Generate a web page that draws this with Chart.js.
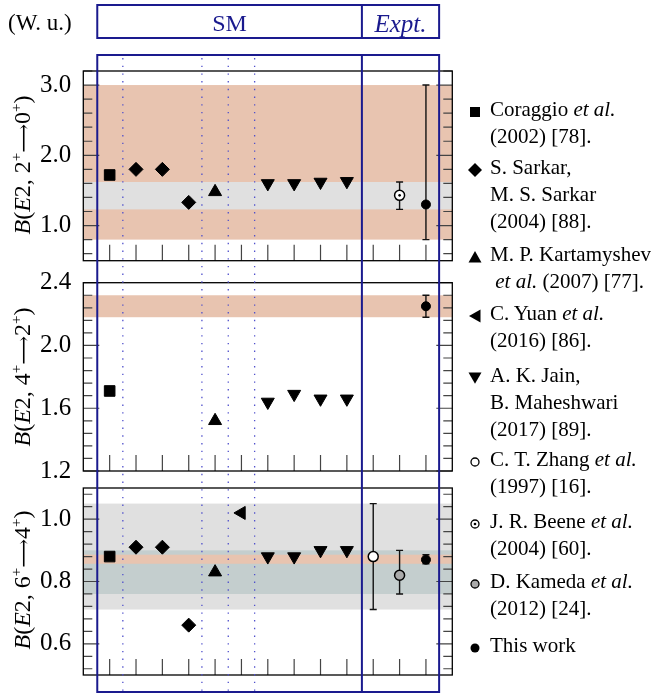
<!DOCTYPE html>
<html>
<head>
<meta charset="utf-8">
<script src="https://cdn.jsdelivr.net/npm/chart.js@4.4.1/dist/chart.umd.min.js"></script>
<style>
  body { margin: 0; background: #fff; }
  #fig { position: relative; width: 652px; height: 694px; font-family: "Liberation Serif", "Times New Roman", serif; color: #000; }
  #fig canvas { position: absolute; left: 0; top: 0; }
  .txt { position: absolute; white-space: nowrap; line-height: 27px; }
  .head { font-size: 24px; color: #1a1a8e; transform: translateX(-50%); }
  .ylab { font-size: 24px; transform: translate(-50%, -50%) rotate(-90deg); }
  .ylab sup { font-size: 15px; vertical-align: 9px; line-height: 0; }
  .arr { font-family: "DejaVu Serif", serif; font-size: 20px; }
  .leg { font-size: 21px; left: 490px; }
  .mk { position: absolute; left: 468px; width: 14px; height: 14px; }
</style>
</head>
<body>
<div id="fig">
  <canvas id="c1" width="652" height="694"></canvas>
  <canvas id="c2" width="652" height="694"></canvas>
  <canvas id="c3" width="652" height="694"></canvas>

  <div class="txt" style="left:8px; top:9px; font-size:23px;">(W. u.)</div>
  <div class="txt head" style="left:229.5px; top:9.5px;">SM</div>
  <div class="txt head" style="left:400.5px; top:9.5px; font-size:25px;"><i>Expt.</i></div>

  <div class="txt ylab" style="left:23px; top:165px;"><i>B</i>(<i>E</i>2, 2<sup>+</sup><span class="arr">⟶</span>0<sup>+</sup>)</div>
  <div class="txt ylab" style="left:23px; top:377px;"><i>B</i>(<i>E</i>2, 4<sup>+</sup><span class="arr">⟶</span>2<sup>+</sup>)</div>
  <div class="txt ylab" style="left:23px; top:580px;"><i>B</i>(<i>E</i>2, 6<sup>+</sup><span class="arr">⟶</span>4<sup>+</sup>)</div>

  <svg class="mk" style="top:105px" viewBox="0 0 14 14"><rect x="2" y="2" width="10" height="10" fill="#000"/></svg>
  <div class="txt leg" style="top:95.5px">Coraggio <i>et al.</i><br>(2002) [78].</div>
  <svg class="mk" style="top:163px" viewBox="0 0 14 14"><polygon points="7,0 14,7 7,14 0,7" fill="#000"/></svg>
  <div class="txt leg" style="top:153.5px">S. Sarkar,<br>M. S. Sarkar<br>(2004) [88].</div>
  <svg class="mk" style="top:250px" viewBox="0 0 14 14"><polygon points="7,1 13.5,12.5 0.5,12.5" fill="#000"/></svg>
  <div class="txt leg" style="top:240.5px">M. P. Kartamyshev<br>&nbsp;<i>et al.</i> (2007) [77].</div>
  <svg class="mk" style="top:309px" viewBox="0 0 14 14"><polygon points="1,7 12.5,0.5 12.5,13.5" fill="#000"/></svg>
  <div class="txt leg" style="top:299.5px">C. Yuan <i>et al.</i><br>(2016) [86].</div>
  <svg class="mk" style="top:371px" viewBox="0 0 14 14"><polygon points="0.5,1.5 13.5,1.5 7,12.8" fill="#000"/></svg>
  <div class="txt leg" style="top:361.5px">A. K. Jain,<br>B. Maheshwari<br>(2017) [89].</div>
  <svg class="mk" style="top:455px" viewBox="0 0 14 14"><circle cx="7" cy="7" r="4" fill="#fff" stroke="#000" stroke-width="1.3"/></svg>
  <div class="txt leg" style="top:445.5px">C. T. Zhang <i>et al.</i><br>(1997) [16].</div>
  <svg class="mk" style="top:517px" viewBox="0 0 14 14"><circle cx="7" cy="7" r="4" fill="#fff" stroke="#000" stroke-width="1.3"/><circle cx="7" cy="7" r="1.3" fill="#000"/></svg>
  <div class="txt leg" style="top:507.5px">J. R. Beene <i>et al.</i><br>(2004) [60].</div>
  <svg class="mk" style="top:577px" viewBox="0 0 14 14"><circle cx="7" cy="7" r="4" fill="#aaa" stroke="#000" stroke-width="1.3"/></svg>
  <div class="txt leg" style="top:567.5px">D. Kameda <i>et al.</i><br>(2012) [24].</div>
  <svg class="mk" style="top:641px" viewBox="0 0 14 14"><circle cx="7" cy="7" r="4.5" fill="#000"/></svg>
  <div class="txt leg" style="top:631.5px">This work</div>
</div>

<script>
// column positions of each calculation / measurement
const columns = [1, 2, 3, 4, 5, 6, 7, 8, 9, 10, 11, 12, 13];
const coraggioX = [1];
const sarkarX = [2, 3, 4];
const kartamyshevX = [5];
const yuanX = [6];
const jainX = [7, 8, 9, 10];
const zhangX = [11];
const beeneX = [12];
const kamedaX = [12];
const thisWorkX = [13];

// values per panel: [2+ -> 0+, 4+ -> 2+, 6+ -> 4+]  (W.u.)
const coraggio = [[1.72], [1.71], [0.88]];
const sarkar = [[1.80, 1.80, 1.33], [], [0.91, 0.91, 0.66]];
const kartamyshev = [[1.48], [1.52], [0.83]];
const yuan = [[], [], [1.02]];
const jain = [[1.60, 1.60, 1.62, 1.63], [1.64, 1.69, 1.66, 1.66], [0.88, 0.88, 0.90, 0.90]];
const zhang = [[], [], [0.88]];
const beene = [[1.43], [], []];
const kameda = [[], [], [0.82]];
const thisWork = [[1.30], [2.25], [0.87]];

// errors as [minus, plus]
const zhangErr = [[], [], [[0.17, 0.17]]];
const beeneErr = [[[0.20, 0.19]], [], []];
const kamedaErr = [[], [], [[0.06, 0.08]]];
const thisWorkErr = [[[0.50, 1.70]], [[0.07, 0.07]], [[0.013, 0.016]]];

// axes
const yMin = [0.5, 1.2, 0.5];
const yMax = [3.2, 2.4, 1.1];
const majorTicks = [[1.0, 2.0, 3.0], [1.2, 1.6, 2.0, 2.4], [0.6, 0.8, 1.0]];
const minorStep = [0.2, 0.08, 0.04];

// SM / Expt. frame and separators, in x data units
const frameEdges = [0.53, 10.57, 13.5];
const dottedAt = [1.5, 4.5, 5.5, 6.5];

// layout of the three plot areas (px)
const areaLeft = 83.3, areaRight = 452.3;
const areaTop = [71, 282.7, 488];
const areaBottom = [260.7, 471, 678];

Chart.defaults.font.family = '"Liberation Serif", "Times New Roman", serif';
Chart.defaults.color = '#000';

const bandColor = { thisWork: '#e8c4b0', beene: '#e0e0e0', zhang: '#e0e0e0', kameda: '#c4cece' };
const navy = '#1a1a8e';

function markerSet(label, xs, ys, style) {
  return Object.assign({
    label: label,
    data: xs.map((x, k) => ({ x: x, y: ys[k] })),
    pointBackgroundColor: '#000',
    pointBorderColor: '#000',
    pointBorderWidth: 1,
    order: 0
  }, style);
}

function errorSets(xs, ys, errs) {
  return errs.map((e, k) => ({
    label: 'err',
    showLine: true,
    data: [{ x: xs[k], y: ys[k] - e[0] }, { x: xs[k], y: ys[k] + e[1] }],
    borderColor: '#111',
    borderWidth: 1.4,
    pointStyle: 'line',
    pointRadius: 3.5,
    pointBorderWidth: 1.4,
    pointBorderColor: '#111',
    order: 1
  }));
}

function makePanel(i) {
  const ds = [];
  if (coraggio[i].length) ds.push(markerSet('Coraggio', coraggioX, coraggio[i], { pointStyle: 'rect', pointRadius: 7.5 }));
  if (sarkar[i].length) ds.push(markerSet('Sarkar', sarkarX, sarkar[i], { pointStyle: 'rectRot', pointRadius: 7 }));
  if (kartamyshev[i].length) ds.push(markerSet('Kartamyshev', kartamyshevX, kartamyshev[i], { pointStyle: 'triangle', pointRadius: 7.5 }));
  if (yuan[i].length) ds.push(markerSet('Yuan', yuanX, yuan[i], { pointStyle: 'triangle', pointRadius: 7.5, rotation: -90 }));
  if (jain[i].length) ds.push(markerSet('Jain', jainX, jain[i], { pointStyle: 'triangle', pointRadius: 7.5, rotation: 180 }));
  if (zhang[i].length) {
    ds.push(markerSet('Zhang', zhangX, zhang[i], { pointStyle: 'circle', pointRadius: 5, pointBackgroundColor: '#fff', pointBorderWidth: 1.5 }));
    ds.push(...errorSets(zhangX, zhang[i], zhangErr[i]));
  }
  if (beene[i].length) {
    ds.push(markerSet('Beene dot', beeneX, beene[i], { pointStyle: 'circle', pointRadius: 1.3, pointBorderWidth: 0 }));
    ds.push(markerSet('Beene', beeneX, beene[i], { pointStyle: 'circle', pointRadius: 5, pointBackgroundColor: '#fff', pointBorderWidth: 1.5 }));
    ds.push(...errorSets(beeneX, beene[i], beeneErr[i]));
  }
  if (kameda[i].length) {
    ds.push(markerSet('Kameda', kamedaX, kameda[i], { pointStyle: 'circle', pointRadius: 5, pointBackgroundColor: '#aaa', pointBorderWidth: 1.5 }));
    ds.push(...errorSets(kamedaX, kameda[i], kamedaErr[i]));
  }
  ds.push(markerSet('This work', thisWorkX, thisWork[i], { pointStyle: 'circle', pointRadius: 4.5 }));
  ds.push(...errorSets(thisWorkX, thisWork[i], thisWorkErr[i]));

  // experimental ranges shaded across the panel, widest first
  const bands = [];
  [['thisWork', thisWork, thisWorkErr], ['beene', beene, beeneErr], ['zhang', zhang, zhangErr], ['kameda', kameda, kamedaErr]]
    .forEach(([name, vals, errs]) => {
      vals[i].forEach((v, k) => bands.push({ lo: v - errs[i][k][0], hi: v + errs[i][k][1], color: bandColor[name] }));
    });
  bands.sort((a, b) => (b.hi - b.lo) - (a.hi - a.lo));

  const deco = {
    id: 'deco' + i,
    beforeDatasetsDraw(chart) {
      const { ctx, chartArea: a, scales: { y } } = chart;
      ctx.save();
      bands.forEach(b => {
        const y1 = y.getPixelForValue(b.hi), y2 = y.getPixelForValue(b.lo);
        ctx.fillStyle = b.color;
        ctx.fillRect(a.left, y1, a.right - a.left, y2 - y1);
      });
      ctx.restore();
    },
    afterDraw(chart) {
      const { ctx, chartArea: a, scales: { x, y } } = chart;
      ctx.save();
      // tick marks, pointing inwards
      ctx.strokeStyle = '#444';
      ctx.lineWidth = 1.2;
      ctx.beginPath();
      const first = Math.ceil(yMin[i] / minorStep[i] - 1e-6);
      for (let k = first; k * minorStep[i] <= yMax[i] + 1e-6; k++) {
        const v = +(k * minorStep[i]).toFixed(4);
        const len = majorTicks[i].some(m => Math.abs(m - v) < 1e-6) ? 16 : 9;
        const py = y.getPixelForValue(v);
        ctx.moveTo(a.left, py); ctx.lineTo(a.left + len, py);
        ctx.moveTo(a.right, py); ctx.lineTo(a.right - len, py);
      }
      columns.forEach(c => {
        const px = x.getPixelForValue(c);
        ctx.moveTo(px, a.bottom); ctx.lineTo(px, a.bottom - 16);
      });
      ctx.stroke();
      // panel frame
      ctx.strokeStyle = '#000';
      ctx.lineWidth = 1.3;
      ctx.strokeRect(a.left, a.top, a.right - a.left, a.bottom - a.top);

      if (i === 2) {
        // SM / Expt. boxes and the dotted separators, across all panels
        const ex = frameEdges.map(v => x.getPixelForValue(v));
        ctx.strokeStyle = '#5050cc';
        ctx.lineWidth = 1.3;
        ctx.setLineDash([1.4, 6.3]);
        ctx.beginPath();
        dottedAt.forEach(v => {
          const px = x.getPixelForValue(v);
          ctx.moveTo(px, 58); ctx.lineTo(px, 691);
        });
        ctx.stroke();
        ctx.setLineDash([]);
        ctx.strokeStyle = navy;
        ctx.lineWidth = 2;
        ctx.strokeRect(ex[0], 5, ex[2] - ex[0], 33);
        ctx.strokeRect(ex[0], 55, ex[2] - ex[0], 637);
        ctx.beginPath();
        ctx.moveTo(ex[1], 5); ctx.lineTo(ex[1], 38);
        ctx.moveTo(ex[1], 55); ctx.lineTo(ex[1], 692);
        ctx.stroke();
      }
      ctx.restore();
    }
  };

  return new Chart(document.getElementById('c' + (i + 1)), {
    type: 'scatter',
    data: { datasets: ds },
    options: {
      responsive: false,
      animation: false,
      events: [],
      layout: { padding: { left: areaLeft - 50, right: 652 - areaRight, top: areaTop[i], bottom: 694 - areaBottom[i] } },
      plugins: { legend: { display: false }, tooltip: { enabled: false } },
      scales: {
        x: { type: 'linear', min: 0, max: 14, display: false },
        y: {
          type: 'linear', min: yMin[i], max: yMax[i],
          grid: { display: false },
          border: { display: false },
          afterBuildTicks: s => { s.ticks = majorTicks[i].map(v => ({ value: v })); },
          afterFit: s => { s.width = 50; },
          ticks: { autoSkip: false, padding: 4, font: { size: 25 }, color: '#000', callback: v => v.toFixed(1) }
        }
      }
    },
    plugins: [deco]
  });
}

[0, 1, 2].forEach(makePanel);
</script>
</body>
</html>
